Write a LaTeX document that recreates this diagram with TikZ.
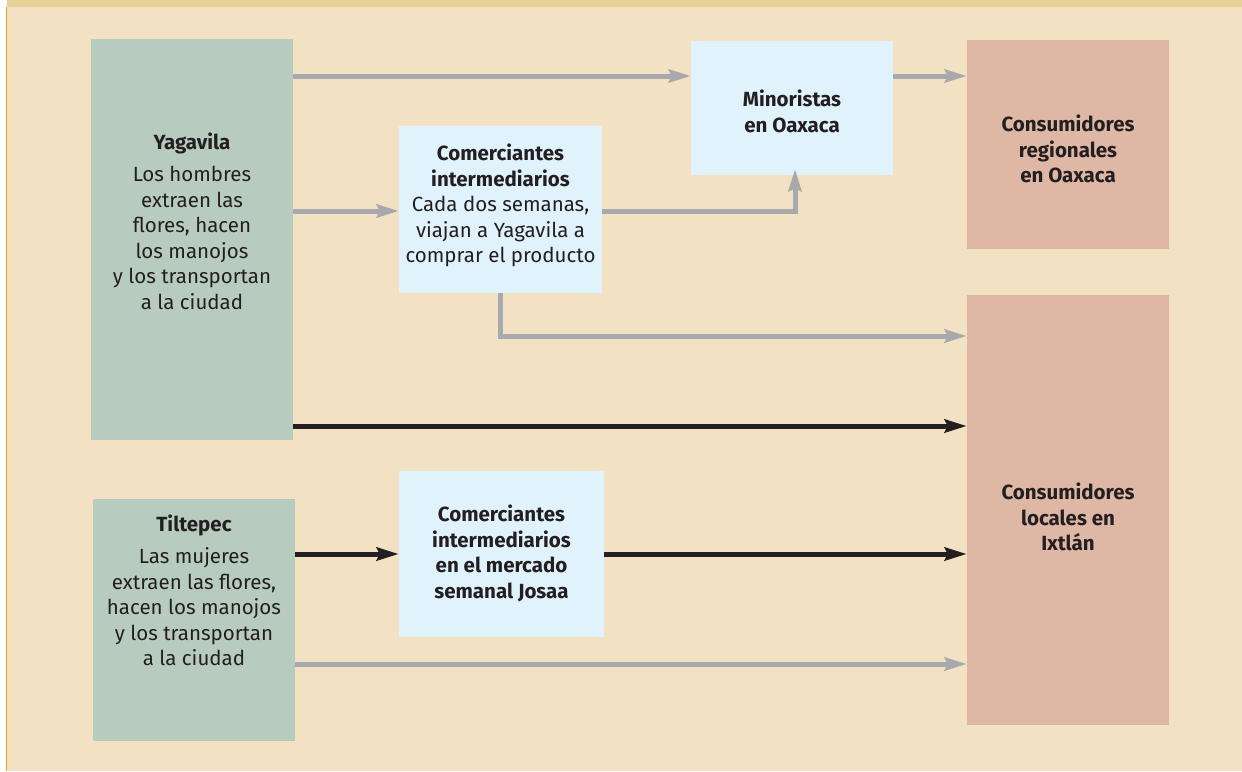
\documentclass[tikz,border=0pt]{standalone}
\usepackage{fontspec}
\setmainfont{Fira Sans}
\usetikzlibrary{arrows.meta}

\definecolor{pagebg}{HTML}{F2E2C3}
\definecolor{topstrip}{HTML}{E9CF98}
\definecolor{rulegold}{HTML}{D4A52A}
\definecolor{sage}{HTML}{B8CBBF}
\definecolor{paleblue}{HTML}{E0F2FC}
\definecolor{salmon}{HTML}{DEB8A5}
\definecolor{flowgray}{HTML}{A7A9AC}
\definecolor{ink}{HTML}{231F20}

\begin{document}
\begin{tikzpicture}[x=1pt,y=-1pt,
  box/.style={inner sep=0pt, minimum width=202pt},
  txt/.style={anchor=north, inner sep=0pt, align=center, text=ink,
    font=\fontsize{20.5}{25.5}\selectfont},
  btxt/.style={txt, font=\bfseries\fontsize{20.5}{25.5}\selectfont},
  gflow/.style={draw=flowgray, line width=5pt,
    -{Stealth[length=22pt,width=13pt,inset=3pt]}},
  kflow/.style={draw=ink, line width=5pt,
    -{Stealth[length=22pt,width=13pt,inset=3pt]}}]
  \useasboundingbox (0,0) rectangle (1242,771);
  % page
  \fill[pagebg] (7,7) rectangle (1242,771);
  \fill[topstrip] (7,0) rectangle (1242,7);
  \draw[rulegold, line width=1.4pt] (6.5,7) -- (6.5,771);

  % boxes
  \node[box, fill=sage, minimum height=401pt] (yag) at (192,239.5) {};
  \node[box, fill=sage, minimum height=242pt] (tilt) at (194,620) {};
  \node[box, fill=paleblue, minimum width=203pt, minimum height=167pt] (com1) at (500.5,209.5) {};
  \node[box, fill=paleblue, minimum height=134pt] (mino) at (792,108) {};
  \node[box, fill=salmon, minimum height=209pt] (creg) at (1068,144.5) {};
  \node[box, fill=salmon, minimum height=430pt] (cloc) at (1068,510) {};
  \node[box, fill=paleblue, minimum width=205pt, minimum height=166pt] (com2) at (501.5,554) {};

  % texts
  \node[txt] (yagT) at (192,133) {\textbf{Yagavila}\\[6.5pt]Los hombres\\extraen las\\flores, hacen\\los manojos\\y los transportan\\a la ciudad};
  \node[txt] (tiltT) at (194,515) {\textbf{Tiltepec}\\[6.5pt]Las mujeres\\extraen las flores,\\hacen los manojos\\y los transportan\\a la ciudad};
  \node[txt] (com1T) at (500.5,144) {\textbf{Comerciantes}\\\textbf{intermediarios}\\Cada dos semanas,\\viajan a Yagavila a\\comprar el producto};
  \node[btxt] (minoT) at (792,90) {Minoristas\\en Oaxaca};
  \node[btxt] (cregT) at (1068,115) {Consumidores\\regionales\\en Oaxaca};
  \node[btxt] (clocT) at (1068,483) {Consumidores\\locales en\\Ixtlán};
  \node[btxt] (com2T) at (501.5,505) {Comerciantes\\intermediarios\\en el mercado\\semanal Josaa};

  % rows of the flows
  \coordinate (rowA) at (0,76);
  \coordinate (rowB) at (0,211);
  \coordinate (rowC) at (0,336);
  \coordinate (rowD) at (0,426);
  \coordinate (rowF) at (0,664);

  % flows
  \draw[gflow] (yag.east |- rowA) -- (mino.west |- rowA);
  \draw[gflow] (mino.east |- rowA) -- (creg.west |- rowA);
  \draw[gflow] (yag.east |- rowB) -- (com1.west |- rowB);
  \draw[gflow] (com1.east |- rowB) -| ([xshift=3pt,yshift=6pt]mino.south);
  \draw[gflow] (com1.south) |- (cloc.west |- rowC);
  \draw[kflow] (yag.east |- rowD) -- (cloc.west |- rowD);
  \draw[kflow] (tilt.east |- com2.west) -- (com2.west);
  \draw[kflow] (com2.east) -- (cloc.west |- com2.east);
  \draw[gflow] (tilt.east |- rowF) -- (cloc.west |- rowF);
\end{tikzpicture}
\end{document}
